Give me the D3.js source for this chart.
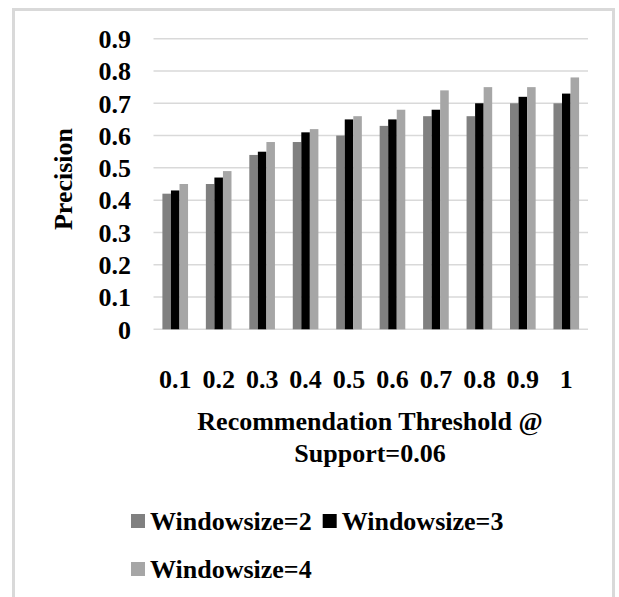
<!DOCTYPE html>
<html>
<head>
<meta charset="utf-8">
<script src="https://cdn.jsdelivr.net/npm/d3@7"></script>
<style>
  html, body { margin: 0; padding: 0; background: #fff; }
  svg { display: block; }
  text { font-family: "Liberation Serif", "Times New Roman", serif; font-weight: bold; fill: #000; }
</style>
</head>
<body>
<script>
// Precision by recommendation threshold, one series per window size
const thresholds = ["0.1", "0.2", "0.3", "0.4", "0.5", "0.6", "0.7", "0.8", "0.9", "1"];
const seriesNames = ["Windowsize=2", "Windowsize=3", "Windowsize=4"];
const window2 = [0.42, 0.45, 0.54, 0.58, 0.60, 0.63, 0.66, 0.66, 0.70, 0.70];
const window3 = [0.43, 0.47, 0.55, 0.61, 0.65, 0.65, 0.68, 0.70, 0.72, 0.73];
const window4 = [0.45, 0.49, 0.58, 0.62, 0.66, 0.68, 0.74, 0.75, 0.75, 0.78];
const yTicks = [0, 0.1, 0.2, 0.3, 0.4, 0.5, 0.6, 0.7, 0.8, 0.9];
const colors = ["#808080", "#000000", "#a6a6a6"];

const seriesValues = [window2, window3, window4];

const W = 619, H = 597;
const svg = d3.select("body").append("svg").attr("width", W).attr("height", H);

// chart frame
svg.append("rect")
  .attr("x", 13.5).attr("y", 9.5)
  .attr("width", 600).attr("height", 620)
  .attr("fill", "none").attr("stroke", "#d9d9d9").attr("stroke-width", 3);

const plot = { left: 153.5, right: 588, top: 38.7, bottom: 329.3 };

const x0 = d3.scaleBand().domain(thresholds).range([plot.left, plot.right]).paddingInner(0.41).paddingOuter(0.205);
const x1 = d3.scaleBand().domain(seriesNames).range([0, x0.bandwidth()]);
const y = d3.scaleLinear().domain([0, 0.9]).range([plot.bottom, plot.top]);

// horizontal gridlines
svg.append("g").selectAll("line").data(yTicks).join("line")
  .attr("x1", plot.left).attr("x2", plot.right)
  .attr("y1", d => y(d)).attr("y2", d => y(d))
  .attr("stroke", "#d9d9d9").attr("stroke-width", 1.5);

// y tick labels
const yAxis = d3.axisLeft(y).tickValues(yTicks).tickFormat(d => d === 0 ? "0" : d3.format(".1f")(d)).tickSize(0).tickPadding(0);
const gy = svg.append("g").attr("transform", "translate(131,0)").call(yAxis);
gy.select(".domain").remove();
gy.selectAll("text")
  .attr("font-family", "Liberation Serif, Times New Roman, serif")
  .attr("font-weight", "bold").attr("font-size", 26).attr("fill", "#000")
  .attr("dy", "0.34em");

// bars
const rows = thresholds.map((t, i) => ({ t, vals: seriesValues.map((s, k) => ({ k, v: s[i] })) }));
svg.append("g").selectAll("g").data(rows).join("g")
  .attr("transform", d => `translate(${x0(d.t)},0)`)
  .selectAll("rect").data(d => d.vals).join("rect")
  .attr("x", d => x1(seriesNames[d.k]))
  .attr("width", x1.bandwidth())
  .attr("y", d => y(d.v))
  .attr("height", d => y(0) - y(d.v))
  .attr("fill", d => colors[d.k]);

// x tick labels
const xAxis = d3.axisBottom(x0).tickSize(0).tickPadding(0);
const gx = svg.append("g").attr("transform", "translate(0,388)").call(xAxis);
gx.select(".domain").remove();
gx.selectAll("text")
  .attr("font-family", "Liberation Serif, Times New Roman, serif")
  .attr("font-weight", "bold").attr("font-size", 26).attr("fill", "#000")
  .attr("dy", 0).attr("y", 0);

// axis titles
svg.append("text")
  .attr("transform", "translate(72,179) rotate(-90)")
  .attr("text-anchor", "middle").attr("font-size", 26)
  .text("Precision");

svg.append("text").attr("x", 370).attr("y", 430)
  .attr("text-anchor", "middle").attr("font-size", 26)
  .text("Recommendation Threshold @");
svg.append("text").attr("x", 370).attr("y", 462)
  .attr("text-anchor", "middle").attr("font-size", 26)
  .text("Support=0.06");

// legend
const legendRows = [[0, 1], [2]];
const rowBase = [530, 578];
legendRows.forEach((items, r) => {
  let cx = 131;
  items.forEach(k => {
    svg.append("rect").attr("x", cx).attr("y", rowBase[r] - 16)
      .attr("width", 14).attr("height", 14).attr("fill", colors[k]);
    const t = svg.append("text").attr("x", cx + 19).attr("y", rowBase[r])
      .attr("font-size", 26).text(seriesNames[k]);
    cx = cx + 19 + t.node().getComputedTextLength() + 11;
  });
});
</script>
</body>
</html>
